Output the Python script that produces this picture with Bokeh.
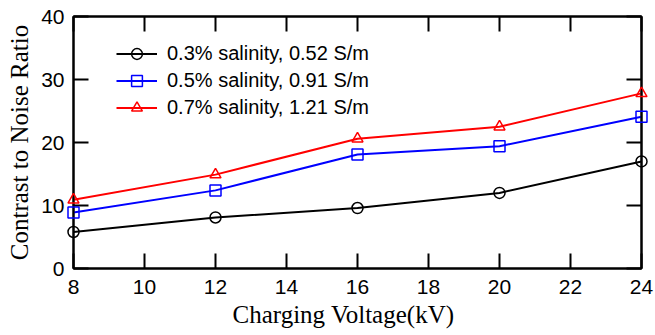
from bokeh.plotting import figure
from bokeh.models import Range1d, LinearAxis, Legend, LegendItem, FixedTicker, Title
from bokeh.embed import file_html
from bokeh.resources import INLINE

voltage = [8, 12, 16, 20, 24]
cnr_03 = [5.8, 8.1, 9.6, 12.0, 17.0]
cnr_05 = [8.9, 12.4, 18.1, 19.4, 24.1]
cnr_07 = [10.9, 14.9, 20.6, 22.5, 27.8]
series_labels = ["0.3% salinity, 0.52 S/m", "0.5% salinity, 0.91 S/m", "0.7% salinity, 1.21 S/m"]
x_ticks = [8, 10, 12, 14, 16, 18, 20, 22, 24]
y_ticks = [0, 10, 20, 30, 40]
x_title = "Charging Voltage(kV)"
y_title = "Contrast to Noise Ratio"

W, H = 655, 335
BL, BR, BT, BB = 73, 14, 16, 67
TICK = 15

p = figure(width=W, height=H,
           x_range=Range1d(x_ticks[0], x_ticks[-1]), y_range=Range1d(y_ticks[0], y_ticks[-1]),
           output_backend="svg", toolbar_location=None,
           min_border_left=BL, min_border_right=BR, min_border_top=BT, min_border_bottom=BB,
           y_axis_label=y_title)
p.grid.visible = False
p.outline_line_color = "black"
p.outline_line_width = 2
p.background_fill_color = "white"
p.border_fill_color = "white"

bottom = p.below[0]
left = p.left[0]
top = LinearAxis()
right = LinearAxis()
p.add_layout(top, "above")
p.add_layout(right, "right")

for ax in [bottom, top]:
    ax.ticker = FixedTicker(ticks=x_ticks)
for ax in [left, right]:
    ax.ticker = FixedTicker(ticks=y_ticks)

for ax in [bottom, left, top, right]:
    ax.axis_line_width = 2
    ax.major_tick_line_width = 2
    ax.major_tick_line_color = "black"
    ax.major_tick_in = TICK
    ax.major_tick_out = 0
    ax.minor_tick_line_color = None
    ax.major_label_text_font = "Liberation Sans"
    ax.major_label_text_font_size = "21px"
    ax.major_label_text_color = "black"
    ax.axis_label_text_font = "Liberation Serif"
    ax.axis_label_text_font_size = "25px"
    ax.axis_label_text_font_style = "normal"
    ax.axis_label_text_color = "black"

top.major_label_overrides = {t: "" for t in x_ticks}
right.major_label_overrides = {t: "" for t in y_ticks}
for ax in [top, right]:
    ax.major_label_standoff = 0

bottom.major_label_standoff = 11
left.major_label_standoff = 9
left.axis_label_standoff = 5

colors = ["black", "blue", "red"]
markers = ["circle", "square", "triangle"]
items = []
for ys, c, m, lab in zip([cnr_03, cnr_05, cnr_07], colors, markers, series_labels):
    ln = p.line(voltage, ys, line_color=c, line_width=2)
    sc = p.scatter(voltage, ys, marker=m, size=11, fill_color=None, line_color=c,
                   line_width=1.5, level="overlay")
    items.append(LegendItem(label=lab, renderers=[ln, sc]))

legend = Legend(items=items, location=(43, 147), padding=0, margin=0, spacing=0,
                glyph_width=41, glyph_height=27, label_height=27, label_standoff=10,
                label_text_font="Liberation Sans", label_text_font_size="20px",
                label_text_color="black", border_line_alpha=0, background_fill_alpha=0)
p.add_layout(legend)

xt = Title(text=x_title, align="left", offset=159, standoff=5,
           text_font="Liberation Serif", text_font_size="25px", text_font_style="normal",
           text_color="black")
p.add_layout(xt, "below")

open("out.html", "w").write(file_html(p, INLINE))
